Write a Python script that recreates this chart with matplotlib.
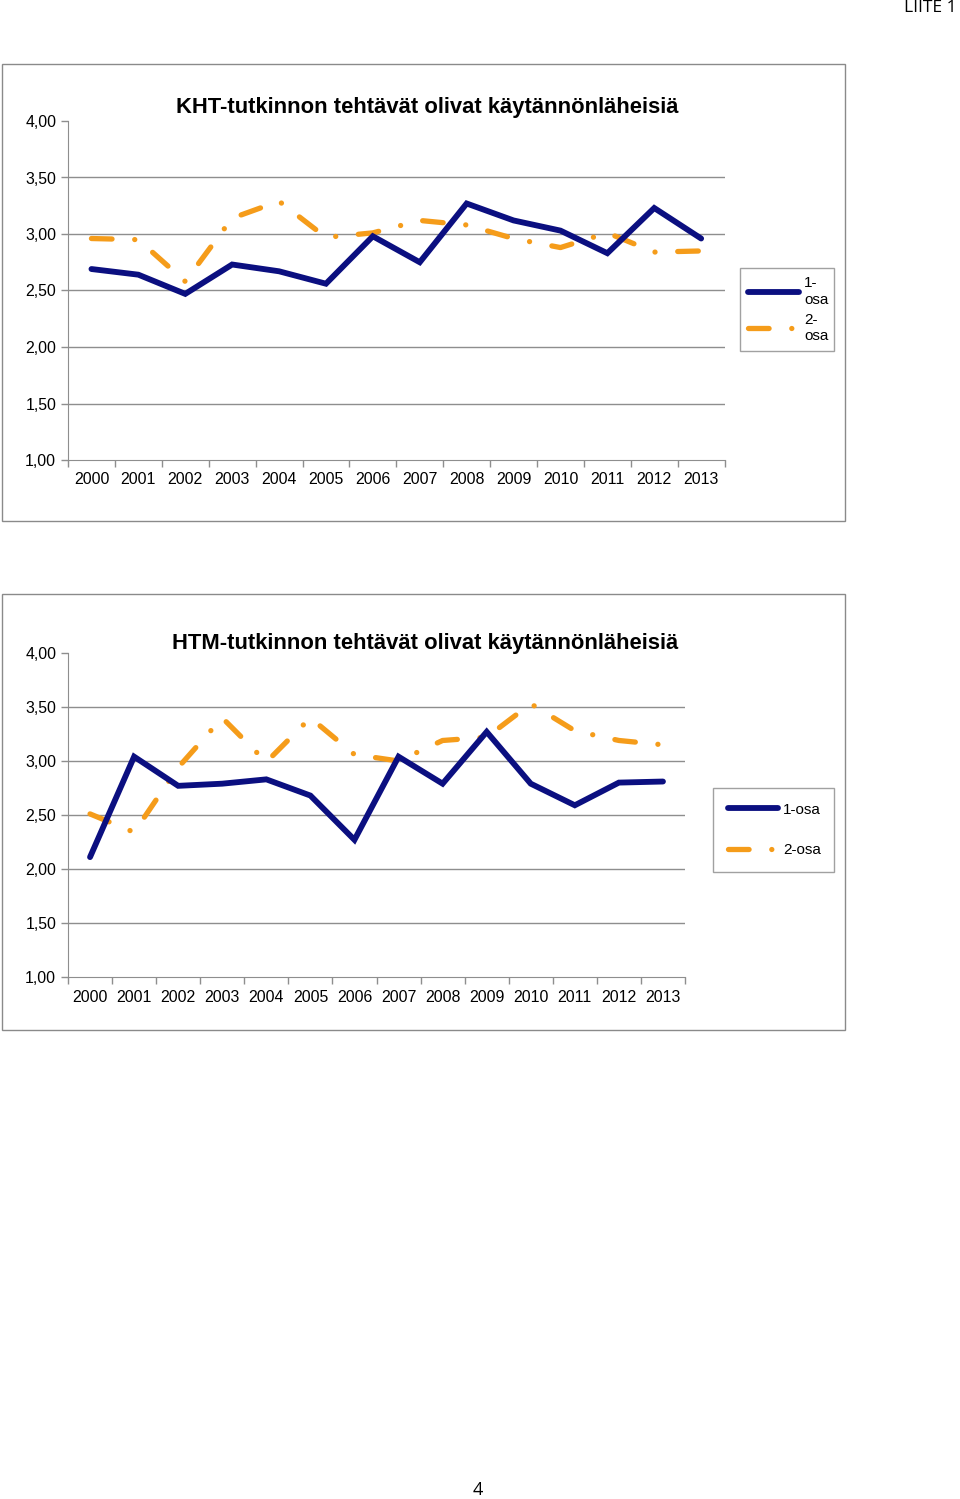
import matplotlib
matplotlib.use("Agg")
import matplotlib.pyplot as plt
from matplotlib.patches import Rectangle

# DATA

vuodet = ["2000", "2001", "2002", "2003", "2004", "2005", "2006",
          "2007", "2008", "2009", "2010", "2011", "2012", "2013"]

kht_osa1 = [2.69, 2.64, 2.47, 2.73, 2.67, 2.56, 2.98,
            2.75, 3.27, 3.12, 3.03, 2.83, 3.23, 2.96]
kht_osa2 = [2.96, 2.95, 2.58, 3.14, 3.29, 2.97, 3.01,
            3.12, 3.08, 2.96, 2.88, 3.01, 2.84, 2.85]

htm_osa1 = [2.11, 3.04, 2.77, 2.79, 2.83, 2.68, 2.27,
            3.04, 2.79, 3.27, 2.79, 2.59, 2.80, 2.81]
htm_osa2 = [2.51, 2.34, 2.94, 3.40, 2.99, 3.40, 3.06,
            3.00, 3.19, 3.22, 3.53, 3.28, 3.19, 3.15]

y_ticks = [1.0, 1.5, 2.0, 2.5, 3.0, 3.5, 4.0]

NAVY = "#0b0f80"
ORANGE = "#f59c1a"
GRID = "#8e8e8e"
W, H = 960, 1499

plt.rcParams['font.family'] = ['Liberation Sans', 'DejaVu Sans']


def px_box(x0, y0, x1, y1):
    """Pikselit -> figure-koordinaatit [left, bottom, width, height]."""
    return [x0 / W, 1 - y1 / H, (x1 - x0) / W, (y1 - y0) / H]


def piirra_kaavio(fig, box, akseli, otsikko, otsikko_xy, osa1, osa2,
                  leg_box, leg_labels, leg_opts):
    # kehys
    l, b, w, h = px_box(*box)
    fig.patches.append(Rectangle((l, b), w, h, transform=fig.transFigure,
                                 fill=False, edgecolor="#8a8a8a", lw=1.0))

    ax = fig.add_axes(px_box(*akseli))
    x = list(range(len(vuodet)))

    for yv in y_ticks[1:-1]:
        ax.axhline(yv, color=GRID, lw=1.0, zorder=1)

    ax.plot(x, osa1, color=NAVY, lw=4.2, solid_capstyle='round',
            solid_joinstyle='miter', label=leg_labels[0], zorder=3)
    ax.plot(x, osa2, color=ORANGE, lw=3.8, dash_capstyle='round',
            linestyle=(0, (3.9, 4.3, 0.01, 4.3)), label=leg_labels[1], zorder=2)

    ax.set_xlim(-0.5, len(vuodet) - 0.5)
    ax.set_ylim(1.0, 4.0)
    ax.set_yticks(y_ticks)
    ax.set_yticklabels([f"{v:.2f}".replace(".", ",") for v in y_ticks])
    ax.set_xticks(x)
    ax.set_xticklabels(vuodet)
    ax.set_xticks([i - 0.5 for i in range(len(vuodet) + 1)], minor=True)
    ax.tick_params(axis='x', which='major', length=0, pad=9, labelsize=11.4)
    ax.tick_params(axis='x', which='minor', length=5, color=GRID, width=1)
    ax.tick_params(axis='y', length=5, color=GRID, width=1, pad=3.5,
                   labelsize=11.4)

    for s in ['top', 'right']:
        ax.spines[s].set_visible(False)
    ax.spines['left'].set_color(GRID)
    ax.spines['bottom'].set_color(GRID)
    ax.spines['bottom'].set_zorder(1)

    fig.text(otsikko_xy[0] / W, 1 - otsikko_xy[1] / H, otsikko,
             ha='center', va='center', fontsize=15.8, fontweight='bold')

    ll, lb, lw_, lh = px_box(*leg_box)
    leg = ax.legend(loc='upper left', bbox_to_anchor=(ll, lb, lw_, lh),
                    bbox_transform=fig.transFigure, mode='expand',
                    fontsize=11, frameon=True, fancybox=False,
                    edgecolor="#8a8a8a", handlelength=3.3,
                    handletextpad=0.35, borderaxespad=0, **leg_opts)
    leg.get_frame().set_linewidth(1.0)
    return ax


def main():
    fig = plt.figure(figsize=(W / 100, H / 100), dpi=100)

    piirra_kaavio(fig, (2, 64, 845, 521), (68, 121, 724.6, 460),
                  "KHT-tutkinnon tehtävät olivat käytännönläheisiä",
                  (427, 107), kht_osa1, kht_osa2,
                  (740, 268, 834, 349), ["1-\nosa", "2-\nosa"],
                  dict(labelspacing=0.4, borderpad=0.55))

    piirra_kaavio(fig, (2, 594, 845, 1030), (68, 653, 685, 977),
                  "HTM-tutkinnon tehtävät olivat käytännönläheisiä",
                  (425, 643), htm_osa1, htm_osa2,
                  (713, 788, 834, 869), ["1-osa", "2-osa"],
                  dict(labelspacing=1.75, borderpad=0.95))

    fig.text(957 / W, 1 - 8 / H, "LIITE 1", ha='right', va='center',
             fontsize=12.5, family=['Open Sans', 'DejaVu Sans'])
    fig.text(478 / W, 1 - 1490 / H, "4", ha='center', va='center',
             fontsize=13, family=['Open Sans', 'DejaVu Sans'])

    fig.savefig("out.png", dpi=100)


if __name__ == "__main__":
    main()
